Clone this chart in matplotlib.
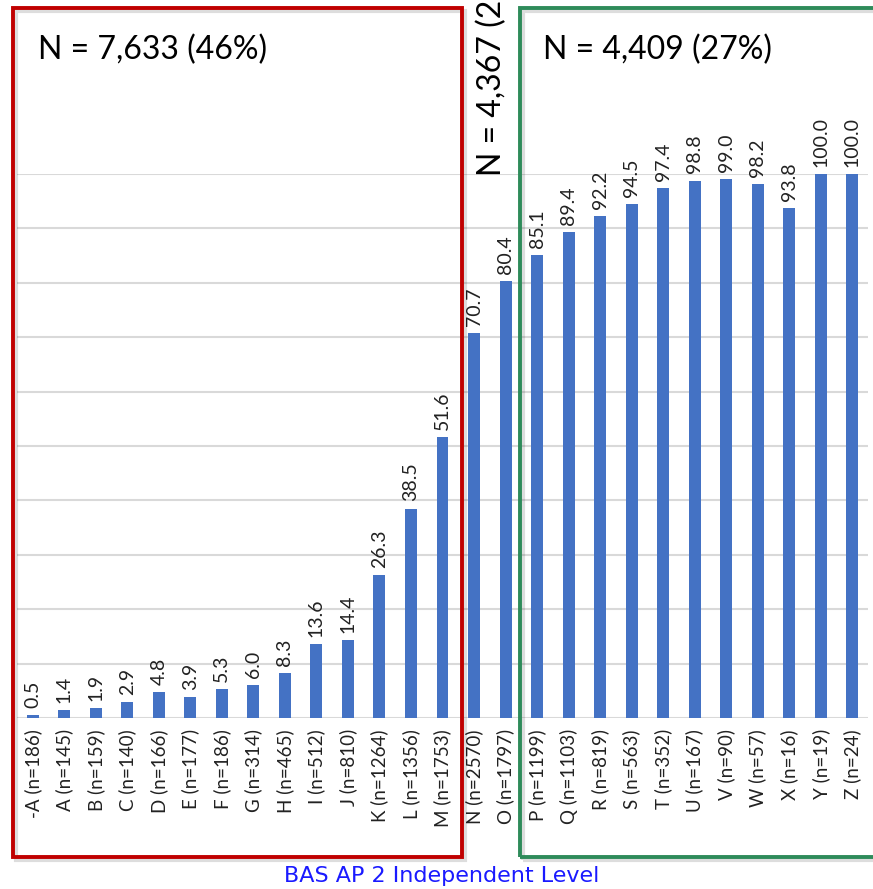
import matplotlib.pyplot as plt
from matplotlib.patches import Rectangle

# Data
levels = ['-A', 'A', 'B', 'C', 'D', 'E', 'F', 'G', 'H', 'I', 'J', 'K', 'L', 'M',
          'N', 'O', 'P', 'Q', 'R', 'S', 'T', 'U', 'V', 'W', 'X', 'Y', 'Z']
counts = [186, 145, 159, 140, 166, 177, 186, 314, 465, 512, 810, 1264, 1356, 1753,
          2570, 1797, 1199, 1103, 819, 563, 352, 167, 90, 57, 16, 19, 24]
percent = [0.5, 1.4, 1.9, 2.9, 4.8, 3.9, 5.3, 6.0, 8.3, 13.6, 14.4, 26.3, 38.5, 51.6,
           70.7, 80.4, 85.1, 89.4, 92.2, 94.5, 97.4, 98.8, 99.0, 98.2, 93.8, 100.0, 100.0]
group_notes = ['N = 7,633 (46%)', 'N = 4,367 (27%)', 'N = 4,409 (27%)']

W, H = 873, 889
fig = plt.figure(figsize=(W / 100, H / 100), dpi=100)
plt.rcParams['font.family'] = ['Lato', 'DejaVu Sans']

# axes box in pixels: x 17..868, y 174 (100%) .. 718 (0%)
ax = fig.add_axes([17 / W, (H - 718) / H, (868 - 17) / W, (718 - 174) / H])

x = range(len(levels))
ax.bar(x, percent, width=0.38, color='#4472C4', zorder=3)

for i, v in zip(x, percent):
    ax.text(i, v + 1.3, f'{v:.1f}', rotation=90, ha='center', va='bottom',
            fontsize=14, color='#222222', clip_on=False)

ax.set_xlim(-0.5, len(levels) - 0.5)
ax.set_ylim(0, 100)
ax.set_yticks(range(0, 101, 10))
ax.yaxis.grid(True, color='#d9d9d9', linewidth=1.5, zorder=0)
ax.tick_params(axis='y', left=False, labelleft=False)
ax.tick_params(axis='x', length=0, pad=8)
ax.set_xticks(list(x))
ax.set_xticklabels([f'{l} (n={n})' for l, n in zip(levels, counts)],
                   rotation=90, fontsize=13.5, color='#222222')
for s in ax.spines.values():
    s.set_visible(False)

# group boxes
for x0, x1, col in [(13, 462, '#C00000'), (520, 880, '#2E8B5A')]:
    fig.patches.append(Rectangle(((x0 + 3) / W, (H - 860) / H), (x1 - x0) / W, 849 / H,
                                 transform=fig.transFigure, fill=False,
                                 edgecolor='#00000022', linewidth=3, zorder=0))
    fig.patches.append(Rectangle((x0 / W, (H - 857) / H), (x1 - x0) / W, 849 / H,
                                 transform=fig.transFigure, fill=False,
                                 edgecolor=col, linewidth=2.8, zorder=5))

fig.text(38 / W, 1 - 50 / H, group_notes[0], fontsize=23, va='center', ha='left')
fig.text(543 / W, 1 - 50 / H, group_notes[2], fontsize=23, va='center', ha='left')
fig.text(492 / W, 1 - 176 / H, group_notes[1], fontsize=23, rotation=90,
         ha='center', va='bottom')

fig.text(442 / W, 1 - 876 / H, 'BAS AP 2 Independent Level', fontsize=16,
         family='DejaVu Sans', color='#1a1aff', ha='center', va='center')

plt.savefig('out.png', dpi=100)
